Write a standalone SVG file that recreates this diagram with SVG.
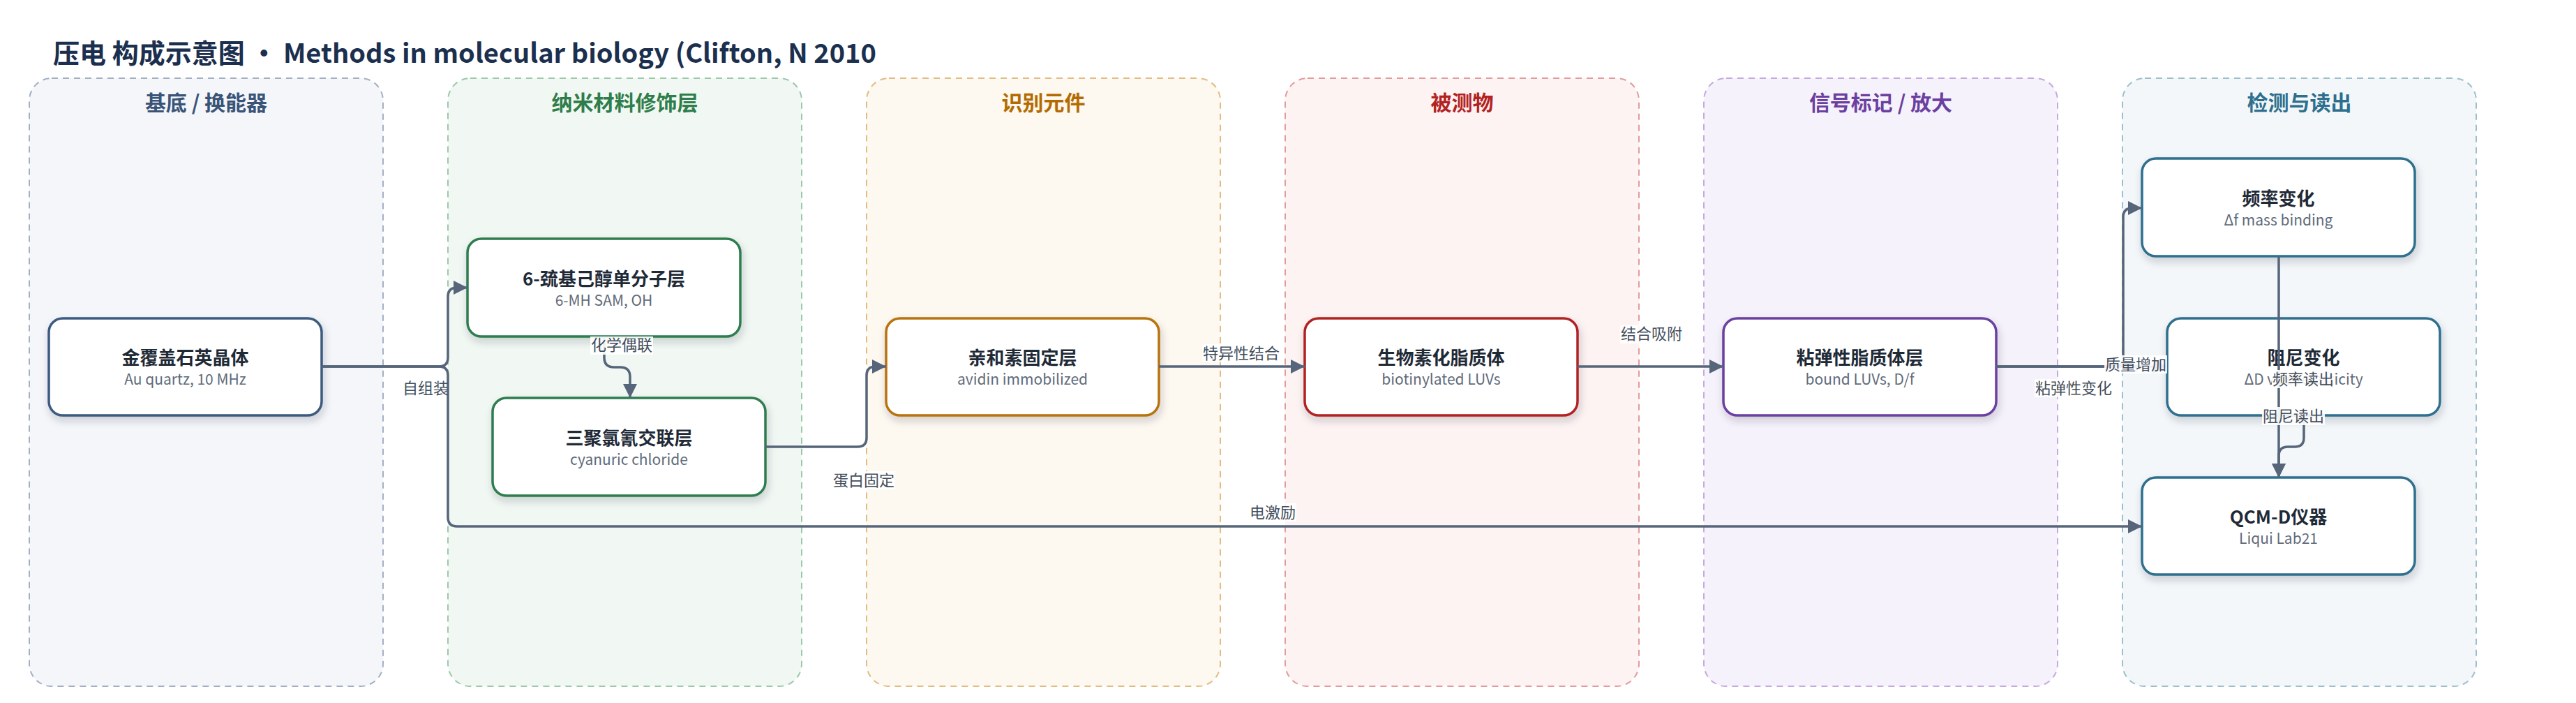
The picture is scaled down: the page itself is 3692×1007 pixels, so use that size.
<svg xmlns="http://www.w3.org/2000/svg" width="3692" height="1007" viewBox="0 0 3692 1007">
<defs>
<style>
text{font-family:"Noto Sans CJK SC","Noto Sans","Liberation Sans",sans-serif}
.ttl{font-size:38px;font-weight:700;fill:#1b2f4e}
.lt{font-size:30px;font-weight:700;text-anchor:middle}
.lane{stroke-width:2;stroke-dasharray:9 7}
.node{fill:#ffffff;stroke-width:3.5;filter:url(#sh)}
.nt{font-size:26px;font-weight:700;fill:#1f2a37;text-anchor:middle}
.ns{font-size:21px;fill:#5f6b7a;text-anchor:middle}
.edge{fill:none;stroke:#56657a;stroke-width:3.5;marker-end:url(#arr)}
.el{font-size:22px;fill:#444e5c;text-anchor:middle}
.lb{fill:#ffffff;fill-opacity:0.9}
</style>
<filter id="sh" x="-10%" y="-10%" width="120%" height="130%">
<feDropShadow dx="2" dy="6" stdDeviation="6" flood-color="#1f2a37" flood-opacity="0.2"/>
</filter>
<marker id="arr" markerUnits="userSpaceOnUse" markerWidth="20" markerHeight="20" refX="20" refY="10" orient="auto">
<path d="M0,0 L20,10 L0,20 Z" fill="#56657a"/>
</marker>
</defs>
<rect width="3692" height="1007" fill="#ffffff"/>
<text class="ttl" x="76" y="90">压电 构成示意图 · Methods in molecular biology (Clifton, N 2010</text>

<g id="lanes">
<g id="lane-substrate">
<rect class="lane" x="42" y="112" width="507" height="871" rx="32" fill="#f4f6fa" stroke="#a3b0c4"/>
<text class="lt" x="295.5" y="158" fill="#3a5478">基底 / 换能器</text>
</g>
<g id="lane-nano">
<rect class="lane" x="642" y="112" width="507" height="871" rx="32" fill="#f1f8f3" stroke="#9dc8aa"/>
<text class="lt" x="895.5" y="158" fill="#2e7d4a">纳米材料修饰层</text>
</g>
<g id="lane-recog">
<rect class="lane" x="1242" y="112" width="507" height="871" rx="32" fill="#fdf8f0" stroke="#e2bc82"/>
<text class="lt" x="1495.5" y="158" fill="#b36b00">识别元件</text>
</g>
<g id="lane-analyte">
<rect class="lane" x="1842" y="112" width="507" height="871" rx="32" fill="#fdf3f3" stroke="#e19c9c"/>
<text class="lt" x="2095.5" y="158" fill="#b22222">被测物</text>
</g>
<g id="lane-signal">
<rect class="lane" x="2442" y="112" width="507" height="871" rx="32" fill="#f6f2fb" stroke="#c5aadf"/>
<text class="lt" x="2695.5" y="158" fill="#6b3fa0">信号标记 / 放大</text>
</g>
<g id="lane-detect">
<rect class="lane" x="3042" y="112" width="507" height="871" rx="32" fill="#f3f7f9" stroke="#9dbfcd"/>
<text class="lt" x="3295.5" y="158" fill="#2e6f8e">检测与读出</text>
</g>
</g>

<g id="n-quartz">
<rect class="node" x="70" y="456" width="391" height="139" rx="20" stroke="#3d5a80"/>
<text class="nt" x="265.5" y="522">金覆盖石英晶体</text>
<text class="ns" x="265.5" y="551">Au quartz, 10 MHz</text>
</g>
<g id="n-sam">
<rect class="node" x="670" y="342" width="391" height="140" rx="20" stroke="#2e7d4f"/>
<text class="nt" x="865.5" y="409">6-巯基己醇单分子层</text>
<text class="ns" x="865.5" y="438">6-MH SAM, OH</text>
</g>
<g id="n-cyanuric">
<rect class="node" x="706" y="570" width="391" height="140" rx="20" stroke="#2e7d4f"/>
<text class="nt" x="901.5" y="637">三聚氯氰交联层</text>
<text class="ns" x="901.5" y="666">cyanuric chloride</text>
</g>
<g id="n-avidin">
<rect class="node" x="1270" y="456" width="391" height="139" rx="20" stroke="#b8730a"/>
<text class="nt" x="1465.5" y="522">亲和素固定层</text>
<text class="ns" x="1465.5" y="551">avidin immobilized</text>
</g>
<g id="n-luvs">
<rect class="node" x="1870" y="456" width="391" height="139" rx="20" stroke="#b22222"/>
<text class="nt" x="2065.5" y="522">生物素化脂质体</text>
<text class="ns" x="2065.5" y="551">biotinylated LUVs</text>
</g>
<g id="n-bound">
<rect class="node" x="2470" y="456" width="391" height="139" rx="20" stroke="#6a3fa0"/>
<text class="nt" x="2665.5" y="522">粘弹性脂质体层</text>
<text class="ns" x="2665.5" y="551">bound LUVs, D/f</text>
</g>
<g id="n-freq">
<rect class="node" x="3070" y="227" width="391" height="140" rx="20" stroke="#2e6f8e"/>
<text class="nt" x="3265.5" y="294">频率变化</text>
<text class="ns" x="3265.5" y="323">Δf mass binding</text>
</g>
<g id="n-damp">
<rect class="node" x="3106" y="456" width="391" height="139" rx="20" stroke="#2e6f8e"/>
<text class="nt" x="3301.5" y="522">阻尼变化</text>
<text class="ns" x="3301.5" y="551">ΔD viscoelasticity</text>
</g>
<g id="n-qcmd">
<rect class="node" x="3070" y="684" width="391" height="139" rx="20" stroke="#2e6f8e"/>
<text class="nt" x="3265.5" y="750">QCM-D仪器</text>
<text class="ns" x="3265.5" y="779">Liqui Lab21</text>
</g>

<g id="connectors">
<path class="edge" d="M461,525 H629 Q642,525 642,512 V425 Q642,412 655,412 H670"/>
<path class="edge" d="M461,525 H629 Q642,525 642,538 V741 Q642,754 655,754 H3070"/>
<path class="edge" d="M866,482 V512 Q866,526 880,526 H889 Q903,526 903,540 V570"/>
<path class="edge" d="M1097,640 H1229 Q1242,640 1242,627 V538 Q1242,525 1255,525 H1270"/>
<path class="edge" d="M1661,525 H1870"/>
<path class="edge" d="M2261,525 H2470"/>
<path class="edge" d="M2861,525 H3030 Q3043,525 3043,512 V311 Q3043,298 3056,298 H3070"/>
<path class="edge" d="M2861,525 H3106"/>
<path class="edge" d="M3266,367 V684"/>
<path class="edge" d="M3302,595 V627 Q3302,640 3289,640 H3279 Q3266,640 3266,653 V684"/>

<g id="edge-labels">
<text class="el" x="610" y="564">自组装</text>
<rect class="lb" x="846" y="482" width="90" height="26"/>
<text class="el" x="891" y="502">化学偶联</text>
<rect class="lb" x="1193" y="675" width="90" height="26"/>
<text class="el" x="1238" y="696">蛋白固定</text>
<rect class="lb" x="1723" y="493" width="112" height="26"/>
<text class="el" x="1779" y="514">特异性结合</text>
<rect class="lb" x="2322" y="466" width="90" height="26"/>
<text class="el" x="2367" y="486">结合吸附</text>
<rect class="lb" x="1790" y="721" width="68" height="26"/>
<text class="el" x="1824" y="742">电激励</text>
<rect class="lb" x="2916" y="543" width="112" height="26"/>
<text class="el" x="2972" y="564">粘弹性变化</text>
<rect class="lb" x="3016" y="509" width="90" height="26"/>
<text class="el" x="3061" y="530">质量增加</text>
<rect class="lb" x="3256" y="530" width="90" height="26"/>
<text class="el" x="3301" y="551">频率读出</text>
<rect class="lb" x="3242" y="583" width="90" height="26"/>
<text class="el" x="3287" y="604">阻尼读出</text>
</g>
</g>
</svg>
